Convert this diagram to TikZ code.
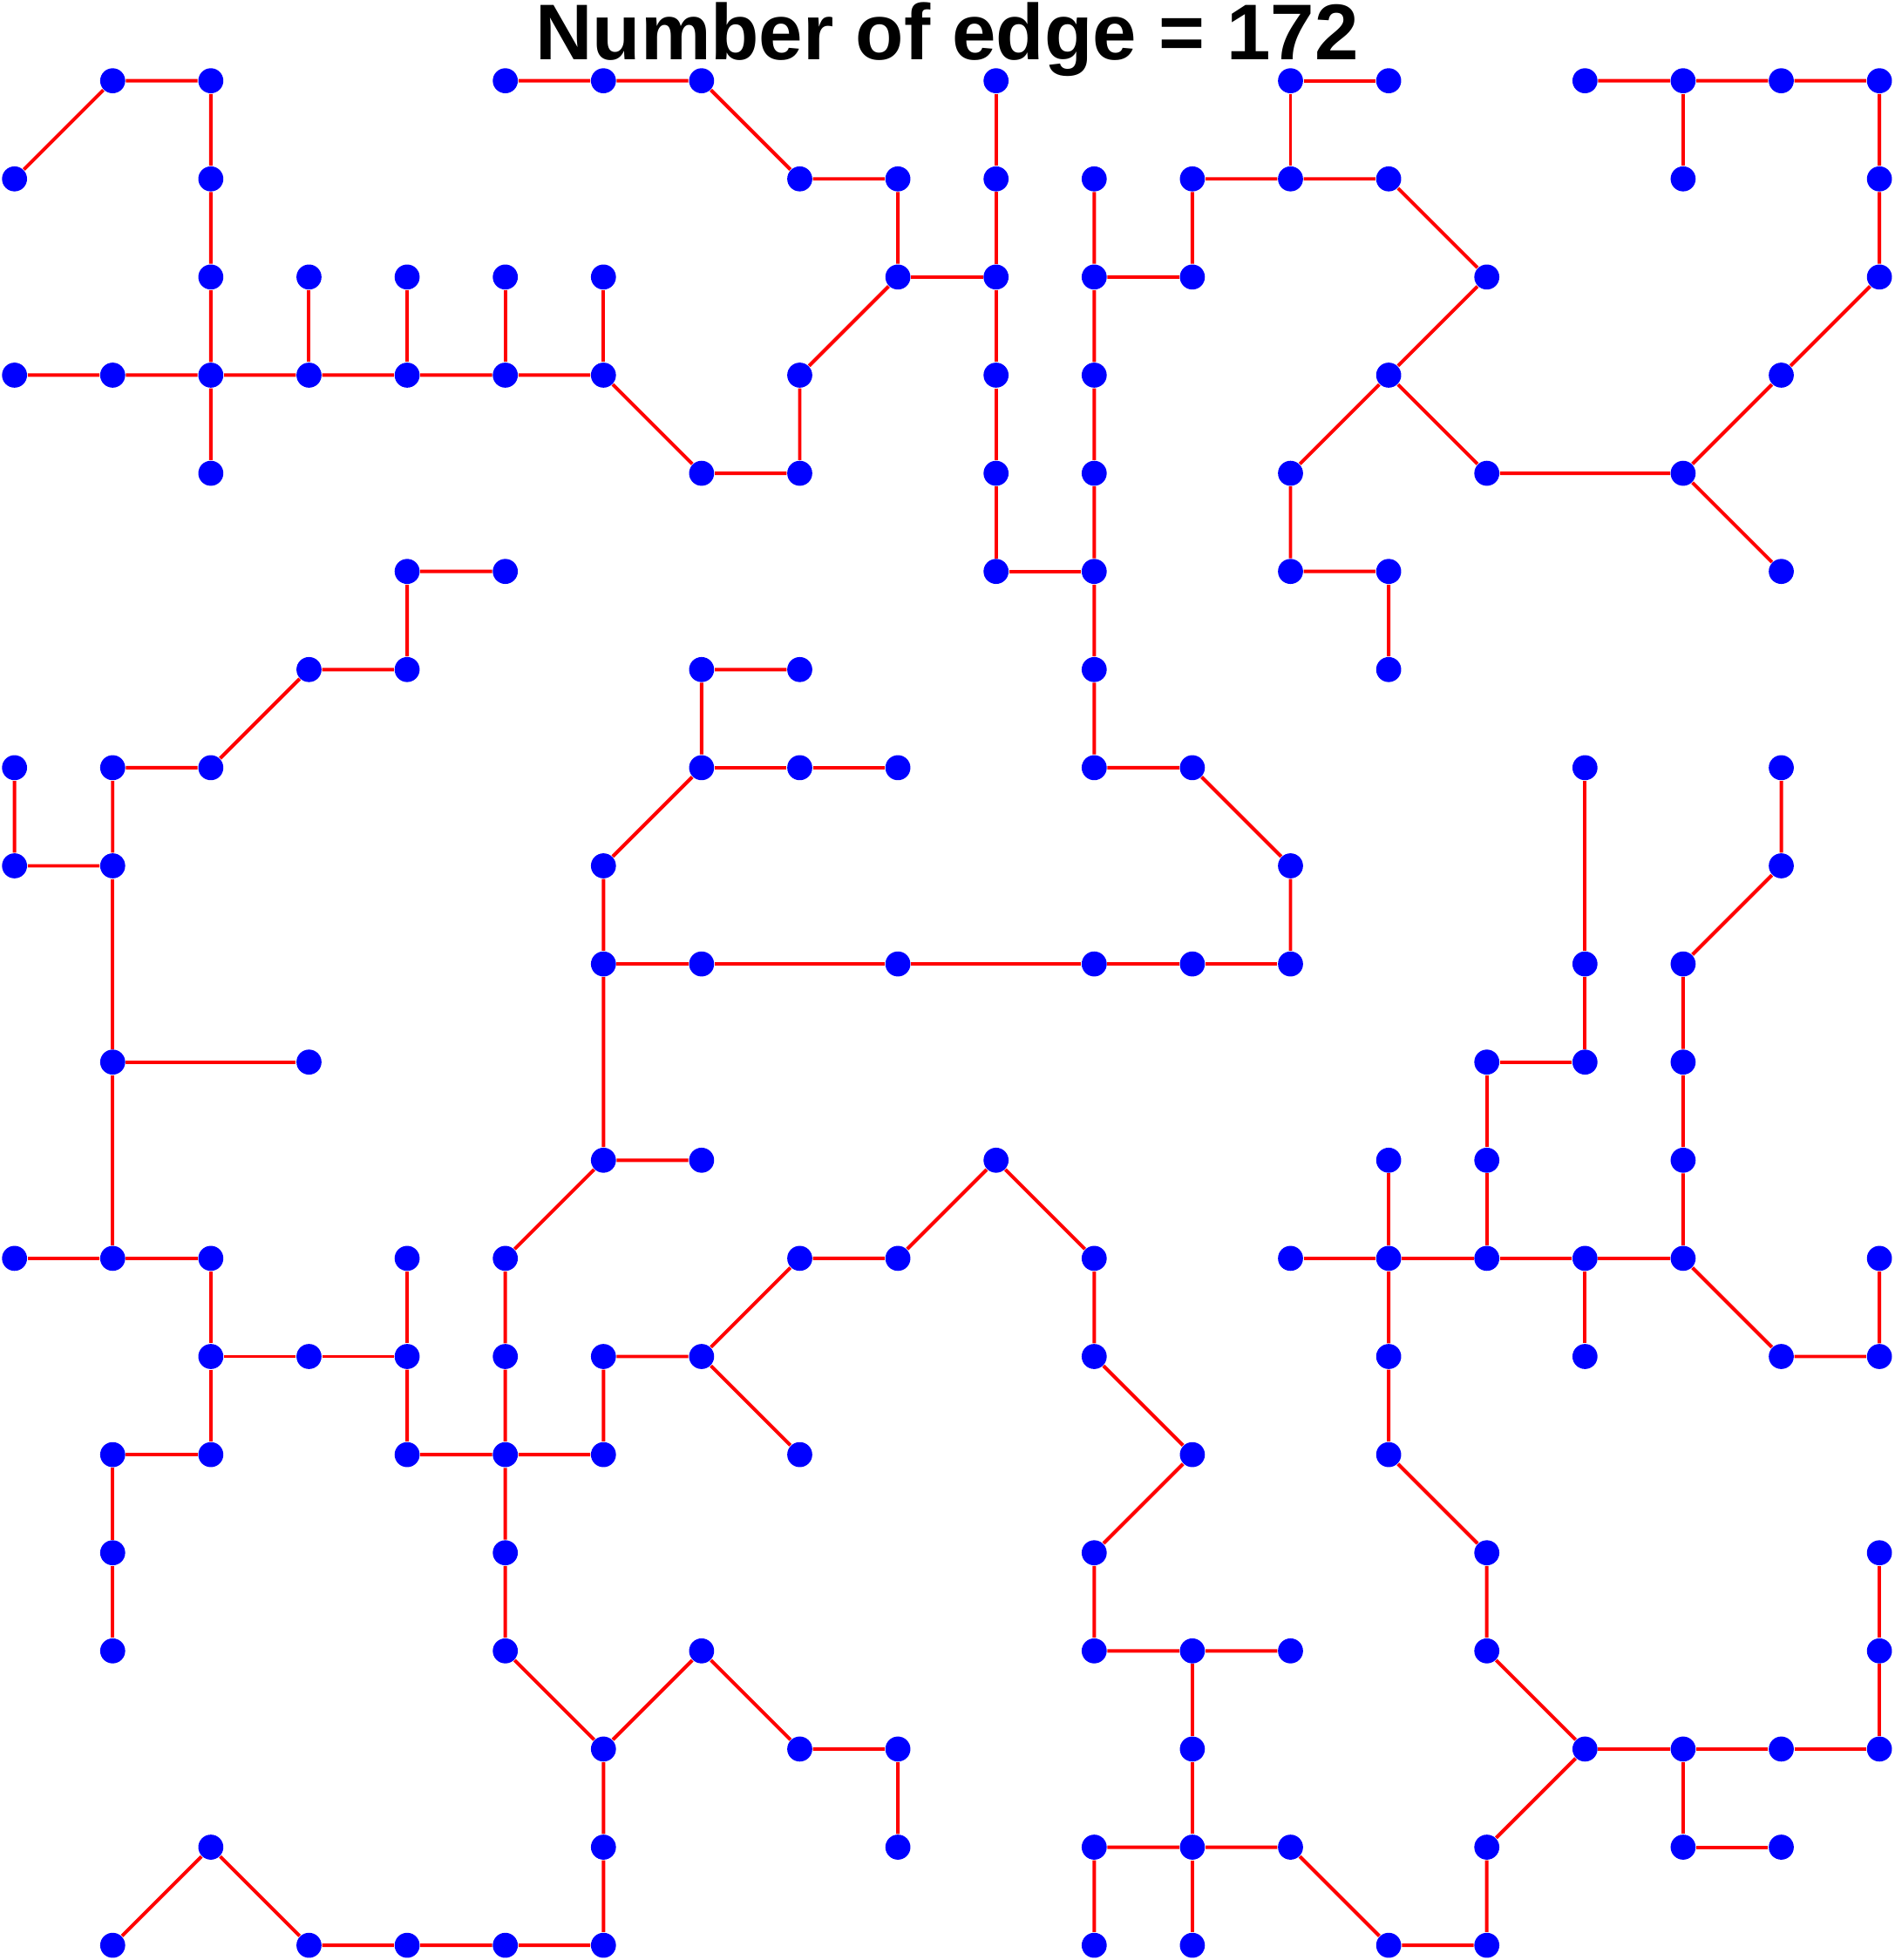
\documentclass[tikz,border=0pt]{standalone}
\usepackage{fontspec}
\newfontfamily\titlefont{Liberation Sans}

\begin{document}
\begin{tikzpicture}[y=-1cm]
%style for grid vertex
\tikzstyle{vnode} = [circle, fill=blue, draw=none, inner sep=0pt, minimum size=0.255cm]

%style for tree link
\tikzstyle{link} = [draw=red, line width=1pt]

\useasboundingbox (-0.148,-0.823) rectangle (19.150,19.150);

%title
\node[anchor=base, font=\titlefont\bfseries\fontsize{22.9}{27}\selectfont] (title) at (9.5,-0.217) {Number of edge = 172};

%row 0
\node[vnode] (c1r0) at (1,0) {};
\node[vnode] (c2r0) at (2,0) {};
\node[vnode] (c5r0) at (5,0) {};
\node[vnode] (c6r0) at (6,0) {};
\node[vnode] (c7r0) at (7,0) {};
\node[vnode] (c10r0) at (10,0) {};
\node[vnode] (c13r0) at (13,0) {};
\node[vnode] (c14r0) at (14,0) {};
\node[vnode] (c16r0) at (16,0) {};
\node[vnode] (c17r0) at (17,0) {};
\node[vnode] (c18r0) at (18,0) {};
\node[vnode] (c19r0) at (19,0) {};
%row 1
\node[vnode] (c0r1) at (0,1) {};
\node[vnode] (c2r1) at (2,1) {};
\node[vnode] (c8r1) at (8,1) {};
\node[vnode] (c9r1) at (9,1) {};
\node[vnode] (c10r1) at (10,1) {};
\node[vnode] (c11r1) at (11,1) {};
\node[vnode] (c12r1) at (12,1) {};
\node[vnode] (c13r1) at (13,1) {};
\node[vnode] (c14r1) at (14,1) {};
\node[vnode] (c17r1) at (17,1) {};
\node[vnode] (c19r1) at (19,1) {};
%row 2
\node[vnode] (c2r2) at (2,2) {};
\node[vnode] (c3r2) at (3,2) {};
\node[vnode] (c4r2) at (4,2) {};
\node[vnode] (c5r2) at (5,2) {};
\node[vnode] (c6r2) at (6,2) {};
\node[vnode] (c9r2) at (9,2) {};
\node[vnode] (c10r2) at (10,2) {};
\node[vnode] (c11r2) at (11,2) {};
\node[vnode] (c12r2) at (12,2) {};
\node[vnode] (c15r2) at (15,2) {};
\node[vnode] (c19r2) at (19,2) {};
%row 3
\node[vnode] (c0r3) at (0,3) {};
\node[vnode] (c1r3) at (1,3) {};
\node[vnode] (c2r3) at (2,3) {};
\node[vnode] (c3r3) at (3,3) {};
\node[vnode] (c4r3) at (4,3) {};
\node[vnode] (c5r3) at (5,3) {};
\node[vnode] (c6r3) at (6,3) {};
\node[vnode] (c8r3) at (8,3) {};
\node[vnode] (c10r3) at (10,3) {};
\node[vnode] (c11r3) at (11,3) {};
\node[vnode] (c14r3) at (14,3) {};
\node[vnode] (c18r3) at (18,3) {};
%row 4
\node[vnode] (c2r4) at (2,4) {};
\node[vnode] (c7r4) at (7,4) {};
\node[vnode] (c8r4) at (8,4) {};
\node[vnode] (c10r4) at (10,4) {};
\node[vnode] (c11r4) at (11,4) {};
\node[vnode] (c13r4) at (13,4) {};
\node[vnode] (c15r4) at (15,4) {};
\node[vnode] (c17r4) at (17,4) {};
%row 5
\node[vnode] (c4r5) at (4,5) {};
\node[vnode] (c5r5) at (5,5) {};
\node[vnode] (c10r5) at (10,5) {};
\node[vnode] (c11r5) at (11,5) {};
\node[vnode] (c13r5) at (13,5) {};
\node[vnode] (c14r5) at (14,5) {};
\node[vnode] (c18r5) at (18,5) {};
%row 6
\node[vnode] (c3r6) at (3,6) {};
\node[vnode] (c4r6) at (4,6) {};
\node[vnode] (c7r6) at (7,6) {};
\node[vnode] (c8r6) at (8,6) {};
\node[vnode] (c11r6) at (11,6) {};
\node[vnode] (c14r6) at (14,6) {};
%row 7
\node[vnode] (c0r7) at (0,7) {};
\node[vnode] (c1r7) at (1,7) {};
\node[vnode] (c2r7) at (2,7) {};
\node[vnode] (c7r7) at (7,7) {};
\node[vnode] (c8r7) at (8,7) {};
\node[vnode] (c9r7) at (9,7) {};
\node[vnode] (c11r7) at (11,7) {};
\node[vnode] (c12r7) at (12,7) {};
\node[vnode] (c16r7) at (16,7) {};
\node[vnode] (c18r7) at (18,7) {};
%row 8
\node[vnode] (c0r8) at (0,8) {};
\node[vnode] (c1r8) at (1,8) {};
\node[vnode] (c6r8) at (6,8) {};
\node[vnode] (c13r8) at (13,8) {};
\node[vnode] (c18r8) at (18,8) {};
%row 9
\node[vnode] (c6r9) at (6,9) {};
\node[vnode] (c7r9) at (7,9) {};
\node[vnode] (c9r9) at (9,9) {};
\node[vnode] (c11r9) at (11,9) {};
\node[vnode] (c12r9) at (12,9) {};
\node[vnode] (c13r9) at (13,9) {};
\node[vnode] (c16r9) at (16,9) {};
\node[vnode] (c17r9) at (17,9) {};
%row 10
\node[vnode] (c1r10) at (1,10) {};
\node[vnode] (c3r10) at (3,10) {};
\node[vnode] (c15r10) at (15,10) {};
\node[vnode] (c16r10) at (16,10) {};
\node[vnode] (c17r10) at (17,10) {};
%row 11
\node[vnode] (c6r11) at (6,11) {};
\node[vnode] (c7r11) at (7,11) {};
\node[vnode] (c10r11) at (10,11) {};
\node[vnode] (c14r11) at (14,11) {};
\node[vnode] (c15r11) at (15,11) {};
\node[vnode] (c17r11) at (17,11) {};
%row 12
\node[vnode] (c0r12) at (0,12) {};
\node[vnode] (c1r12) at (1,12) {};
\node[vnode] (c2r12) at (2,12) {};
\node[vnode] (c4r12) at (4,12) {};
\node[vnode] (c5r12) at (5,12) {};
\node[vnode] (c8r12) at (8,12) {};
\node[vnode] (c9r12) at (9,12) {};
\node[vnode] (c11r12) at (11,12) {};
\node[vnode] (c13r12) at (13,12) {};
\node[vnode] (c14r12) at (14,12) {};
\node[vnode] (c15r12) at (15,12) {};
\node[vnode] (c16r12) at (16,12) {};
\node[vnode] (c17r12) at (17,12) {};
\node[vnode] (c19r12) at (19,12) {};
%row 13
\node[vnode] (c2r13) at (2,13) {};
\node[vnode] (c3r13) at (3,13) {};
\node[vnode] (c4r13) at (4,13) {};
\node[vnode] (c5r13) at (5,13) {};
\node[vnode] (c6r13) at (6,13) {};
\node[vnode] (c7r13) at (7,13) {};
\node[vnode] (c11r13) at (11,13) {};
\node[vnode] (c14r13) at (14,13) {};
\node[vnode] (c16r13) at (16,13) {};
\node[vnode] (c18r13) at (18,13) {};
\node[vnode] (c19r13) at (19,13) {};
%row 14
\node[vnode] (c1r14) at (1,14) {};
\node[vnode] (c2r14) at (2,14) {};
\node[vnode] (c4r14) at (4,14) {};
\node[vnode] (c5r14) at (5,14) {};
\node[vnode] (c6r14) at (6,14) {};
\node[vnode] (c8r14) at (8,14) {};
\node[vnode] (c12r14) at (12,14) {};
\node[vnode] (c14r14) at (14,14) {};
%row 15
\node[vnode] (c1r15) at (1,15) {};
\node[vnode] (c5r15) at (5,15) {};
\node[vnode] (c11r15) at (11,15) {};
\node[vnode] (c15r15) at (15,15) {};
\node[vnode] (c19r15) at (19,15) {};
%row 16
\node[vnode] (c1r16) at (1,16) {};
\node[vnode] (c5r16) at (5,16) {};
\node[vnode] (c7r16) at (7,16) {};
\node[vnode] (c11r16) at (11,16) {};
\node[vnode] (c12r16) at (12,16) {};
\node[vnode] (c13r16) at (13,16) {};
\node[vnode] (c15r16) at (15,16) {};
\node[vnode] (c19r16) at (19,16) {};
%row 17
\node[vnode] (c6r17) at (6,17) {};
\node[vnode] (c8r17) at (8,17) {};
\node[vnode] (c9r17) at (9,17) {};
\node[vnode] (c12r17) at (12,17) {};
\node[vnode] (c16r17) at (16,17) {};
\node[vnode] (c17r17) at (17,17) {};
\node[vnode] (c18r17) at (18,17) {};
\node[vnode] (c19r17) at (19,17) {};
%row 18
\node[vnode] (c2r18) at (2,18) {};
\node[vnode] (c6r18) at (6,18) {};
\node[vnode] (c9r18) at (9,18) {};
\node[vnode] (c11r18) at (11,18) {};
\node[vnode] (c12r18) at (12,18) {};
\node[vnode] (c13r18) at (13,18) {};
\node[vnode] (c15r18) at (15,18) {};
\node[vnode] (c17r18) at (17,18) {};
\node[vnode] (c18r18) at (18,18) {};
%row 19
\node[vnode] (c1r19) at (1,19) {};
\node[vnode] (c3r19) at (3,19) {};
\node[vnode] (c4r19) at (4,19) {};
\node[vnode] (c5r19) at (5,19) {};
\node[vnode] (c6r19) at (6,19) {};
\node[vnode] (c11r19) at (11,19) {};
\node[vnode] (c12r19) at (12,19) {};
\node[vnode] (c14r19) at (14,19) {};
\node[vnode] (c15r19) at (15,19) {};

% links in the upper part
\draw[link] (c0r1) -- (c1r0) -- (c2r0) -- (c2r1) -- (c2r2) -- (c2r3) -- (c2r4);
\draw[link] (c0r3) -- (c1r3) -- (c2r3) -- (c3r3) -- (c4r3) -- (c5r3) -- (c6r3) -- (c7r4) -- (c8r4) -- (c8r3) -- (c9r2) -- (c9r1) -- (c8r1) -- (c7r0) -- (c6r0) -- (c5r0);
\draw[link] (c3r2) -- (c3r3);
\draw[link] (c4r2) -- (c4r3);
\draw[link] (c5r2) -- (c5r3);
\draw[link] (c6r2) -- (c6r3);
\draw[link] (c9r2) -- (c10r2);
\draw[link] (c10r0) -- (c10r1) -- (c10r2) -- (c10r3) -- (c10r4) -- (c10r5) -- (c11r5);
\draw[link] (c11r1) -- (c11r2) -- (c11r3) -- (c11r4) -- (c11r5) -- (c11r6) -- (c11r7) -- (c12r7) -- (c13r8) -- (c13r9);
\draw[link] (c11r2) -- (c12r2) -- (c12r1) -- (c13r1) -- (c14r1) -- (c15r2) -- (c14r3) -- (c13r4) -- (c13r5) -- (c14r5) -- (c14r6);
\draw[link] (c13r1) -- (c13r0) -- (c14r0);
\draw[link] (c14r3) -- (c15r4) -- (c17r4) -- (c18r3) -- (c19r2) -- (c19r1) -- (c19r0) -- (c18r0) -- (c17r0) -- (c16r0);
\draw[link] (c17r0) -- (c17r1);
\draw[link] (c17r4) -- (c18r5);

% links on the left side
\draw[link] (c5r5) -- (c4r5) -- (c4r6) -- (c3r6) -- (c2r7) -- (c1r7) -- (c1r8) -- (c0r8) -- (c0r7);
\draw[link] (c1r8) -- (c1r10) -- (c1r12) -- (c0r12);
\draw[link] (c1r10) -- (c3r10);
\draw[link] (c1r12) -- (c2r12) -- (c2r13) -- (c3r13) -- (c4r13) -- (c4r12);
\draw[link] (c2r13) -- (c2r14) -- (c1r14) -- (c1r15) -- (c1r16);

% links in the middle
\draw[link] (c4r13) -- (c4r14) -- (c5r14) -- (c6r14) -- (c6r13) -- (c7r13) -- (c8r12) -- (c9r12) -- (c10r11) -- (c11r12) -- (c11r13) -- (c12r14) -- (c11r15) -- (c11r16) -- (c12r16) -- (c13r16);
\draw[link] (c7r13) -- (c8r14);
\draw[link] (c12r16) -- (c12r17) -- (c12r18) -- (c12r19);
\draw[link] (c11r19) -- (c11r18) -- (c12r18) -- (c13r18) -- (c14r19) -- (c15r19) -- (c15r18) -- (c16r17) -- (c15r16) -- (c15r15) -- (c14r14) -- (c14r13) -- (c14r12);
\draw[link] (c5r12) -- (c5r13) -- (c5r14) -- (c5r15) -- (c5r16) -- (c6r17) -- (c7r16) -- (c8r17) -- (c9r17) -- (c9r18);
\draw[link] (c6r17) -- (c6r18) -- (c6r19) -- (c5r19) -- (c4r19) -- (c3r19) -- (c2r18) -- (c1r19);
\draw[link] (c5r12) -- (c6r11) -- (c7r11);
\draw[link] (c6r11) -- (c6r9) -- (c6r8) -- (c7r7) -- (c7r6) -- (c8r6);
\draw[link] (c7r7) -- (c8r7) -- (c9r7);
\draw[link] (c6r9) -- (c7r9) -- (c9r9) -- (c11r9) -- (c12r9) -- (c13r9);

% links on the right side
\draw[link] (c16r7) -- (c16r9) -- (c16r10) -- (c15r10) -- (c15r11) -- (c15r12);
\draw[link] (c18r7) -- (c18r8) -- (c17r9) -- (c17r10) -- (c17r11) -- (c17r12) -- (c18r13) -- (c19r13) -- (c19r12);
\draw[link] (c13r12) -- (c14r12) -- (c15r12) -- (c16r12) -- (c17r12);
\draw[link] (c14r11) -- (c14r12);
\draw[link] (c16r12) -- (c16r13);
\draw[link] (c16r17) -- (c17r17) -- (c18r17) -- (c19r17) -- (c19r16) -- (c19r15);
\draw[link] (c17r17) -- (c17r18) -- (c18r18);
\end{tikzpicture}
\end{document}
